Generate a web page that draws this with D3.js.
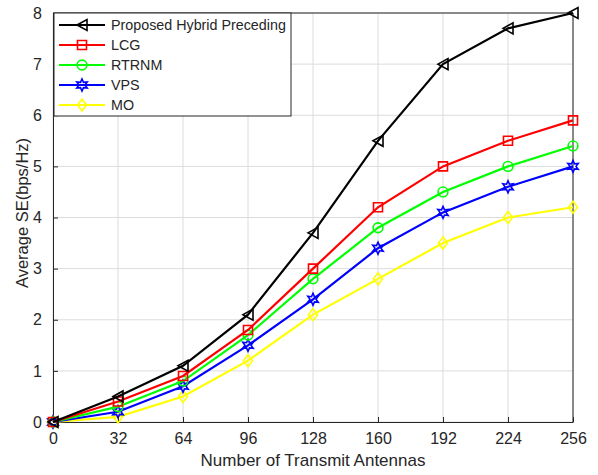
<!DOCTYPE html>
<html>
<head>
<meta charset="utf-8">
<script src="https://cdn.jsdelivr.net/npm/d3@7"></script>
<style>
  body { margin: 0; background: #fff; }
  text { font-family: "Liberation Sans", Arial, sans-serif; fill: #262626; }
</style>
</head>
<body>
<div id="chart"></div>
<script>
// Data
var antennas = [0, 32, 64, 96, 128, 160, 192, 224, 256];
var proposed = [0, 0.5, 1.1, 2.1, 3.7, 5.5, 7.0, 7.7, 8.0];
var lcg      = [0, 0.4, 0.9, 1.8, 3.0, 4.2, 5.0, 5.5, 5.9];
var rtrnm    = [0, 0.3, 0.8, 1.7, 2.8, 3.8, 4.5, 5.0, 5.4];
var vps      = [0, 0.2, 0.7, 1.5, 2.4, 3.4, 4.1, 4.6, 5.0];
var mo       = [0, 0.1, 0.5, 1.2, 2.1, 2.8, 3.5, 4.0, 4.2];
var seriesNames = ["Proposed Hybrid Preceding", "LCG", "RTRNM", "VPS", "MO"];
var yTicks = [0, 1, 2, 3, 4, 5, 6, 7, 8];

var svgWidth = 598, svgHeight = 475;
var margin = { top: 13, right: 25, bottom: 53, left: 53 };
var chartWidth = svgWidth - margin.left - margin.right;
var chartHeight = svgHeight - margin.top - margin.bottom;

var svg = d3.select("#chart").append("svg")
  .attr("width", svgWidth)
  .attr("height", svgHeight);

var g = svg.append("g")
  .attr("transform", `translate(${margin.left}, ${margin.top})`);

var xScale = d3.scaleLinear().domain([0, 256]).range([0, chartWidth]);
var yScale = d3.scaleLinear().domain([0, 8]).range([chartHeight, 0]);

// grid
g.append("g").selectAll("line").data(antennas).enter().append("line")
  .attr("x1", d => xScale(d)).attr("x2", d => xScale(d))
  .attr("y1", 0).attr("y2", chartHeight)
  .attr("stroke", "#dcdcdc").attr("stroke-width", 1);
g.append("g").selectAll("line").data(yTicks).enter().append("line")
  .attr("x1", 0).attr("x2", chartWidth)
  .attr("y1", d => yScale(d)).attr("y2", d => yScale(d))
  .attr("stroke", "#dcdcdc").attr("stroke-width", 1);

// axes (ticks pointing inward)
var bottomAxis = d3.axisBottom(xScale).tickValues(antennas).tickSizeInner(-5).tickSizeOuter(0).tickPadding(11);
var leftAxis = d3.axisLeft(yScale).tickValues(yTicks).tickSizeInner(-5).tickSizeOuter(0).tickPadding(11);

var xAxisG = g.append("g").attr("transform", `translate(0, ${chartHeight})`).call(bottomAxis);
var yAxisG = g.append("g").call(leftAxis);
[xAxisG, yAxisG].forEach(function(a) {
  a.selectAll("text").style("font-size", "16px").style("fill", "#262626");
  a.selectAll("line, path").attr("stroke", "#262626");
});

// box top and right
g.append("line").attr("x1", 0).attr("x2", chartWidth).attr("y1", 0).attr("y2", 0).attr("stroke", "#262626");
g.append("line").attr("x1", chartWidth).attr("x2", chartWidth).attr("y1", 0).attr("y2", chartHeight).attr("stroke", "#262626");

var colors = ["#000000", "#ff0000", "#00ff00", "#0000ff", "#ffff00"];
var allSeries = [proposed, lcg, rtrnm, vps, mo];

function markerPath(i) {
  if (i === 0) return "M-5,0L5,-5.5L5,5.5Z";
  if (i === 1) return "M-4.5,-4.5H4.5V4.5H-4.5Z";
  if (i === 2) return d3.symbol().type(d3.symbolCircle).size(75)();
  if (i === 3) {
    var s = "";
    for (var k = 0; k < 12; k++) {
      var r = k % 2 === 0 ? 6 : 3;
      var a = Math.PI / 6 * k - Math.PI / 2;
      s += (k === 0 ? "M" : "L") + (r * Math.cos(a)).toFixed(2) + "," + (r * Math.sin(a)).toFixed(2);
    }
    return s + "Z";
  }
  return "M0,-6L4.5,0L0,6L-4.5,0Z";
}

var line = d3.line().x((d, i) => xScale(antennas[i])).y(d => yScale(d));

// draw from last to first so black is on top
for (var i = allSeries.length - 1; i >= 0; i--) {
  g.append("path").datum(allSeries[i])
    .attr("d", line)
    .attr("fill", "none")
    .attr("stroke", colors[i])
    .attr("stroke-width", 2.2);
  g.append("g").selectAll("path").data(allSeries[i]).enter().append("path")
    .attr("transform", (d, j) => `translate(${xScale(antennas[j])}, ${yScale(d)})`)
    .attr("d", markerPath(i))
    .attr("fill", "none")
    .attr("stroke", colors[i])
    .attr("stroke-width", 1.6);
}

// legend
var legend = g.append("g").attr("transform", "translate(1, 0)");
legend.append("rect")
  .attr("x", 0).attr("y", 0).attr("width", 237).attr("height", 103)
  .attr("fill", "#fff").attr("stroke", "#262626").attr("stroke-width", 1);
seriesNames.forEach(function(name, i) {
  var y = 12 + i * 20;
  legend.append("line").attr("x1", 5).attr("x2", 51).attr("y1", y).attr("y2", y)
    .attr("stroke", colors[i]).attr("stroke-width", 2.2);
  legend.append("path").attr("transform", `translate(28, ${y})`)
    .attr("d", markerPath(i)).attr("fill", "none")
    .attr("stroke", colors[i]).attr("stroke-width", 1.6);
  legend.append("text").attr("x", 57).attr("y", y + 5)
    .style("font-size", "14.3px").text(name);
});

// axis labels
svg.append("text")
  .attr("x", 313).attr("y", 466)
  .style("text-anchor", "middle").style("font-size", "17px")
  .text("Number of Transmit Antennas");

svg.append("text")
  .attr("transform", `translate(28, 213) rotate(-90)`)
  .style("text-anchor", "middle").style("font-size", "16.5px")
  .text("Average SE(bps/Hz)");
</script>
</body>
</html>
